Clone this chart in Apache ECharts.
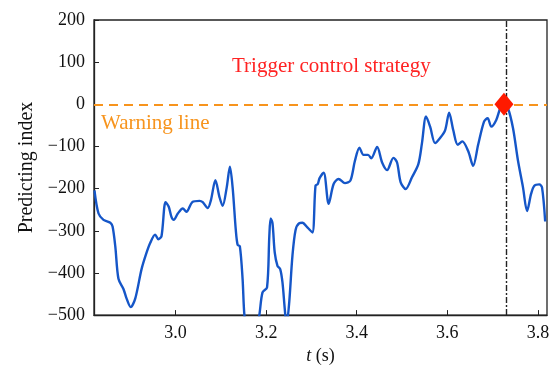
<!DOCTYPE html>
<html lang="en">
<head>
    <meta charset="UTF-8">
    <title>Predicting index</title>
    <script src="https://cdn.jsdelivr.net/npm/echarts@6/dist/echarts.min.js"></script>
    <style>
        html, body { margin: 0; padding: 0; background: #fff; }
    </style>
</head>
<body>
<div id="main" style="width: 559px;height:370px;"></div>
<script type="text/javascript">
    // time (s) and predicting index
    var times = [2.821, 2.830, 2.841, 2.856, 2.861, 2.867, 2.874, 2.885, 2.892, 2.901,
        2.911, 2.925, 2.936, 2.944, 2.955, 2.962, 2.969, 2.978, 2.985, 2.991,
        2.996, 3.005, 3.016, 3.024, 3.037, 3.053, 3.060, 3.071, 3.078, 3.088,
        3.097, 3.104, 3.113, 3.120, 3.126, 3.133, 3.137, 3.142, 3.148, 3.152,
        3.165, 3.185, 3.192, 3.202, 3.207, 3.210, 3.214, 3.219, 3.225, 3.231,
        3.236, 3.241, 3.245, 3.251, 3.258, 3.265, 3.273, 3.280, 3.291, 3.302,
        3.309, 3.314, 3.318, 3.327, 3.338, 3.349, 3.360, 3.374, 3.386, 3.396,
        3.406, 3.415, 3.425, 3.432, 3.445, 3.456, 3.467, 3.481, 3.489, 3.497,
        3.508, 3.522, 3.536, 3.544, 3.553, 3.562, 3.573, 3.584, 3.595, 3.604,
        3.613, 3.623, 3.633, 3.646, 3.657, 3.668, 3.681, 3.689, 3.697, 3.708,
        3.718, 3.725, 3.734, 3.745, 3.756, 3.767, 3.776, 3.785, 3.792, 3.803,
        3.809, 3.816];
    var index = [-204, -259, -274, -281, -290, -337, -414, -438, -461, -481,
        -461, -391, -352, -329, -309, -320, -313, -232, -243, -267,
        -274, -259, -247, -255, -232, -229, -232, -246, -228, -180,
        -220, -241, -197, -148, -197, -298, -333, -337, -414, -500,
        -620, -500, -446, -434, -313, -271, -282, -352, -383, -391,
        -422, -484, -525, -469, -360, -298, -282, -281, -292, -304,
        -193, -189, -175, -162, -236, -189, -177, -187, -181, -134,
        -103, -120, -120, -128, -101, -138, -156, -127, -138, -185,
        -201, -173, -142, -92, -29, -53, -92, -80, -62, -20,
        -61, -96, -88, -111, -146, -96, -41, -33, -53, -37,
        -6, 0, -10, -57, -134, -197, -253, -212, -193, -190,
        -197, -278];

    var warningLevel = 0;
    var triggerTime = 3.725;
    var xTicks = [3.0, 3.2, 3.4, 3.6, 3.8];

    var serif = '"Liberation Serif", "DejaVu Serif", serif';

    var points = times.map(function (t, i) { return [t, index[i]]; });

    var myChart = echarts.init(document.getElementById('main'));
    myChart.setOption({
        animation: false,
        grid: {
            left: 94, right: 12, top: 20, bottom: 50,
            show: true, borderColor: '#222', borderWidth: 1.3
        },
        xAxis: {
            type: 'value',
            min: 2.82,
            max: 3.82,
            name: '{i|t} (s)',
            nameLocation: 'middle',
            nameGap: 27,
            nameTextStyle: {
                color: '#111', fontFamily: serif, fontSize: 18,
                rich: { i: { fontStyle: 'italic', fontFamily: serif, fontSize: 18, color: '#111' } }
            },
            axisLine: { onZero: false, lineStyle: { color: '#222', width: 1.3 } },
            axisTick: { inside: true, length: 5, customValues: xTicks, lineStyle: { color: '#222' } },
            axisLabel: {
                customValues: xTicks,
                color: '#111', fontFamily: serif, fontSize: 18, margin: 9,
                formatter: function (v) { return v.toFixed(1); }
            },
            splitLine: { show: false }
        },
        yAxis: {
            type: 'value',
            min: -500,
            max: 200,
            interval: 100,
            name: 'Predicting index',
            nameLocation: 'middle',
            nameGap: 56,
            nameTextStyle: { color: '#111', fontFamily: serif, fontSize: 20 },
            axisLine: { show: true, onZero: false, lineStyle: { color: '#222', width: 1.3 } },
            axisTick: { show: true, inside: true, length: 5, lineStyle: { color: '#222' } },
            axisLabel: {
                color: '#111', fontFamily: serif, fontSize: 18, margin: 9,
                formatter: function (v) { return v < 0 ? '\u2212' + Math.abs(v) : String(v); }
            },
            splitLine: { show: false }
        },
        series: [{
            type: 'line',
            data: points,
            smooth: 0.3,
            showSymbol: false,
            lineStyle: { color: '#1556c8', width: 2.4 },
            markLine: {
                silent: true,
                symbol: 'none',
                label: { show: false },
                data: [
                    { yAxis: warningLevel, lineStyle: { color: '#f7941d', width: 2, type: [9, 6] } },
                    { xAxis: triggerTime, lineStyle: { color: '#222', width: 1.4, type: [6, 2, 2, 2] } }
                ]
            }
        }, {
            type: 'scatter',
            data: [[triggerTime, warningLevel]],
            symbol: 'diamond',
            symbolSize: [19, 23],
            itemStyle: { color: '#ff1a00', opacity: 1 },
            emphasis: { disabled: true },
            z: 10
        }],
        graphic: [{
            type: 'text',
            left: 232, top: 56,
            style: { text: 'Trigger control strategy', fill: '#ff2323', font: '21px ' + serif }
        }, {
            type: 'text',
            left: 101, top: 113,
            style: { text: 'Warning line', fill: '#f7941d', font: '21px ' + serif }
        }]
    });
</script>
</body>
</html>
